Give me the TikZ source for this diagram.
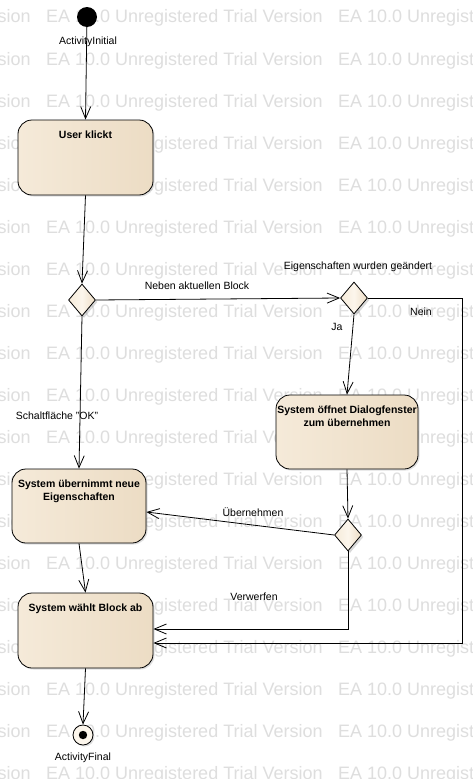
\documentclass[tikz,border=0pt]{standalone}
\usepackage{fontspec}
\setmainfont{Liberation Sans}
\usetikzlibrary{arrows.meta,shapes.geometric,shadows}
\definecolor{fillL}{RGB}{245,234,217}
\definecolor{fillM}{RGB}{252,246,236}
\definecolor{fillR}{RGB}{236,220,196}
\definecolor{wmgray}{RGB}{222,222,222}
\begin{document}
\begin{tikzpicture}[x=1pt,y=-1pt,
  every node/.style={font=\fontsize{10.5}{12.5}\selectfont},
  wm/.style={font=\fontsize{18}{18}\selectfont, text=wmgray, inner sep=0pt, anchor=base west},
  act/.style={draw, line width=0.8pt, rounded corners=14pt, left color=fillL, middle color=fillM, right color=fillR,
    minimum width=135pt, minimum height=75pt, inner sep=0pt,
    drop shadow={opacity=0.25, shadow xshift=1.5pt, shadow yshift=-1.5pt}},
  title/.style={anchor=north, yshift=-8pt, align=center, font=\bfseries\fontsize{10.5}{13}\selectfont},
  dec/.style={draw, line width=0.8pt, diamond, left color=fillL, right color=fillR, middle color=fillM,
    minimum width=27pt, minimum height=32pt, inner sep=0pt,
    drop shadow={opacity=0.3, shadow xshift=2pt, shadow yshift=-2pt}},
  lbl/.style={inner sep=1pt},
  flow/.style={line width=0.8pt, -{Straight Barb[length=12pt,width=10pt]}}
]
\useasboundingbox (0,0) rectangle (472,779);
\fill[white] (0,0) rectangle (472,779);
% watermark
\foreach \r in {0,...,18}{
  \foreach \k in {-1,0,1}{
    \node[wm] at ({46+292*\k},{23+42*\r}) {EA 10.0 Unregistered Trial Version};
  }
}
% nodes
\node[circle, fill=black, minimum size=20pt, inner sep=0pt] (init) at (87,17) {};
\node[lbl] (initl) at (88,42) {ActivityInitial};
\node[act, label={[title]north:User klickt}] (b1) at (85.5,157.5) {};
\node[dec] (d1) at (82,300) {};
\node[dec] (d2) at (354,298) {};
\node[act, minimum width=142pt, minimum height=74pt, label={[title]north:System öffnet Dialogfenster\\zum übernehmen}] (b2) at (347,432) {};
\node[dec] (d3) at (348,535) {};
\node[act, minimum width=134pt, minimum height=74pt, label={[title]north:System übernimmt neue\\Eigenschaften}] (b3) at (79,506) {};
\node[act, label={[title]north:System wählt Block ab}] (b4) at (85.5,630.5) {};
\node[circle, draw, line width=0.8pt, fill=fillM, minimum size=20pt, inner sep=0pt,
  drop shadow={opacity=0.25, shadow xshift=1.5pt, shadow yshift=-1.5pt}] (fin) at (83,735) {};
\fill (fin.center) circle (4.2pt);
\node[lbl] (finl) at (83,758) {ActivityFinal};
\coordinate (nr) at (462,643);
% edges
\draw[flow] (init) -- (b1.north);
\draw[flow] (b1.south) -- (d1.north);
\draw[flow] (d1.east) -- (d2.west);
\node[lbl] (l1) at (197,286) {Neben aktuellen Block};
\node[lbl] (l2) at (358,267) {Eigenschaften wurden geändert};
\draw[flow] (d2.south) -- (b2.north);
\node[lbl] (l3) at (337,327) {Ja};
\draw[flow] (d2.east) -| (nr) -- (b4.east |- nr);
\node[lbl] (l4) at (421,312) {Nein};
\draw[flow] (b2.south) -- (d3.north);
\draw[flow] (d3.west) -- ([yshift=-6pt]b3.east);
\node[lbl] (l5) at (253,512) {Übernehmen};
\draw[flow] (d3.south) |- ([yshift=1.5pt]b4.east);
\node[lbl] (l6) at (254,597) {Verwerfen};
\draw[flow] (d1.south) -- (b3.north);
\node[lbl] (l7) at (57,416) {Schaltfläche "OK"};
\draw[flow] (b3.south) -- (b4.north);
\draw[flow] (b4.south) -- (fin.north);
\end{tikzpicture}
\end{document}
